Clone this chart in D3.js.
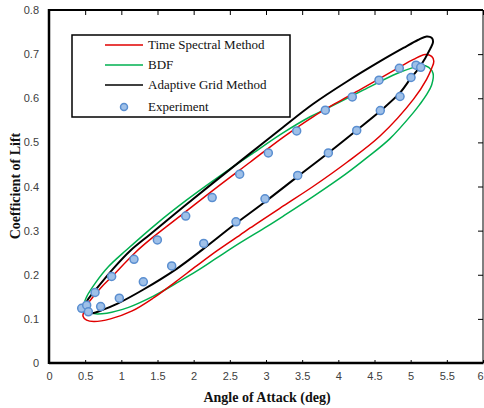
<!DOCTYPE html>
<html><head><meta charset="utf-8">
<script src="https://cdn.jsdelivr.net/npm/d3@7"></script>
<style>body{margin:0;background:#fff}svg{display:block}</style>
</head><body>
<svg id="c" width="484" height="408"></svg>
<script>
// ---- data ----
const xTicks = [0,0.5,1,1.5,2,2.5,3,3.5,4,4.5,5,5.5,6];
const yTicks = [0,0.1,0.2,0.3,0.4,0.5,0.6,0.7,0.8];
const xLabels = ["0","0.5","1","1.5","2","2.5","3","3.5","4","4.5","5","5.5","6"];
const yLabels = ["0","0.1","0.2","0.3","0.4","0.5","0.6","0.7","0.8"];
const seriesNames = ["Time Spectral Method","BDF","Adaptive Grid Method","Experiment"];

const tsm = [[0.48,0.115],[0.54,0.135],[0.73,0.173],[0.87,0.196],[1.19,0.250],[1.40,0.280],[1.86,0.339],[2.32,0.398],[2.78,0.455],[3.24,0.512],[3.65,0.558],[4.00,0.592],[4.35,0.624],[4.81,0.667],[5.04,0.688],[5.20,0.699],[5.29,0.695],[5.32,0.684],
  [5.29,0.668],[5.22,0.643],[5.04,0.598],[4.58,0.515],[4.12,0.455],[3.65,0.400],[3.24,0.356],[2.78,0.306],[2.64,0.290],[2.32,0.254],[2.04,0.220],[1.75,0.184],[1.45,0.148],[1.15,0.118],[0.85,0.100],[0.62,0.094],[0.52,0.097],[0.47,0.106]];

const bdf = [[0.49,0.135],[0.52,0.150],[0.64,0.181],[0.82,0.218],[1.07,0.256],[1.49,0.316],[1.90,0.369],[2.32,0.419],[2.78,0.471],[3.24,0.522],[3.61,0.558],[3.82,0.575],[4.35,0.619],[4.81,0.656],[5.04,0.670],[5.15,0.675],[5.25,0.670],[5.31,0.656],
  [5.29,0.630],[5.22,0.608],[5.13,0.587],[5.04,0.568],[4.71,0.508],[4.40,0.466],[4.10,0.428],[3.65,0.377],[3.24,0.333],[3.01,0.309],[2.64,0.272],[2.32,0.238],[2.04,0.208],[1.75,0.180],[1.45,0.152],[1.10,0.126],[0.80,0.113],[0.62,0.112],[0.53,0.120]];

const agm = [[0.49,0.124],[0.52,0.139],[0.68,0.173],[0.91,0.218],[1.12,0.254],[1.40,0.292],[1.86,0.354],[2.32,0.415],[2.78,0.475],[3.24,0.535],[3.65,0.587],[4.12,0.638],[4.58,0.684],[4.90,0.714],[5.10,0.732],[5.22,0.740],[5.29,0.737],[5.31,0.728],
  [5.27,0.712],[5.13,0.672],[5.00,0.645],[4.85,0.612],[4.58,0.571],[4.25,0.527],[3.86,0.476],[3.44,0.423],[2.96,0.362],[2.55,0.312],[2.13,0.258],[1.77,0.214],[1.30,0.166],[0.94,0.134],[0.75,0.121],[0.60,0.113],[0.52,0.116]];

const expX = [0.452,0.521,0.636,0.866,1.175,1.498,1.89,2.256,2.636,3.032,3.424,3.82,4.193,4.562,4.843,5.074,5.139,
              0.544,0.714,0.972,1.304,1.696,2.139,2.585,2.986,3.438,3.862,4.254,4.58,4.853,5.005];
const expY = [0.124,0.131,0.160,0.196,0.235,0.279,0.333,0.375,0.428,0.476,0.526,0.573,0.603,0.641,0.668,0.675,0.670,
              0.116,0.128,0.147,0.184,0.220,0.271,0.320,0.372,0.425,0.476,0.527,0.572,0.604,0.647];

// ---- chart ----
const L=49,R=483,T=10,B=363;
const x = d3.scaleLinear().domain([0,6]).range([L,R]);
const y = d3.scaleLinear().domain([0,0.8]).range([B,T]);
const svg = d3.select("#c");

const line = d3.line().x(d=>x(d[0])).y(d=>y(d[1])).curve(d3.curveCatmullRomClosed.alpha(0.5));
const g = svg.append("g");
g.append("path").attr("d",line(bdf)).attr("fill","none").attr("stroke","#00b050").attr("stroke-width",1.5);
g.append("path").attr("d",line(tsm)).attr("fill","none").attr("stroke","#e00000").attr("stroke-width",1.5);
g.append("path").attr("d",line(agm)).attr("fill","none").attr("stroke","#000").attr("stroke-width",2);

g.selectAll("circle.e").data(expX.map((v,i)=>[v,expY[i]])).enter().append("circle")
  .attr("cx",d=>x(d[0])).attr("cy",d=>y(d[1])).attr("r",4)
  .attr("fill","#9fc0e8").attr("stroke","#5a8ed0").attr("stroke-width",1.5);

// axes
const tickFont = "'Liberation Sans', Arial, sans-serif";
const xb = svg.append("g").attr("transform",`translate(0,${B})`)
  .call(d3.axisBottom(x).tickValues(xTicks).tickSize(-3).tickPadding(9).tickFormat((d,i)=>xLabels[i]));
const xt = svg.append("g").attr("transform",`translate(0,${T})`)
  .call(d3.axisTop(x).tickValues(xTicks).tickSize(-5).tickFormat(""));
const yl = svg.append("g").attr("transform",`translate(${L},0)`)
  .call(d3.axisLeft(y).tickValues(yTicks).tickSize(0).tickPadding(10).tickFormat((d,i)=>yLabels[i]));
const yr = svg.append("g").attr("transform",`translate(${R},0)`)
  .call(d3.axisRight(y).tickValues(yTicks).tickSize(-5).tickFormat(""));
[xb,xt,yl,yr].forEach(a=>{a.select(".domain").remove();a.selectAll("line").attr("stroke","#000");
  a.selectAll("text").attr("font-family",tickFont).attr("font-size",11).attr("fill","#404040");});
xb.selectAll(".tick text").filter(d=>d===6).attr("dx",-3);
// frame
svg.append("line").attr("x1",L).attr("x2",R).attr("y1",T).attr("y2",T).attr("stroke","#000").attr("stroke-width",2);
svg.append("line").attr("x1",L).attr("x2",R+0.5).attr("y1",B).attr("y2",B).attr("stroke","#000").attr("stroke-width",2.5);
svg.append("line").attr("x1",L).attr("x2",L).attr("y1",T-1).attr("y2",B+1).attr("stroke","#000").attr("stroke-width",2.5);
svg.append("line").attr("x1",R).attr("x2",R).attr("y1",T).attr("y2",B).attr("stroke","#000").attr("stroke-width",1);

// titles
const serif = "'Liberation Serif','Times New Roman',serif";
svg.append("text").attr("x",267).attr("y",402).attr("text-anchor","middle")
  .attr("font-family",serif).attr("font-weight","bold").attr("font-size",14).attr("fill","#111").text("Angle of Attack (deg)");
svg.append("text").attr("transform","translate(20,186) rotate(-90)").attr("text-anchor","middle")
  .attr("font-family",serif).attr("font-weight","bold").attr("font-size",14).attr("fill","#111").text("Coefficient of Lift");

// legend
const lg = svg.append("g");
lg.append("rect").attr("x",72).attr("y",35).attr("width",218).attr("height",82).attr("fill","#fff").attr("stroke","#000").attr("stroke-width",1.5);
const colors = ["#e00000","#00b050","#000"];
const rows = [45,65,85,107];
seriesNames.forEach((n,i)=>{
  if(i<3) lg.append("line").attr("x1",105).attr("x2",143).attr("y1",rows[i]).attr("y2",rows[i]).attr("stroke",colors[i]).attr("stroke-width",1.5);
  else lg.append("circle").attr("cx",124).attr("cy",rows[i]).attr("r",3.5).attr("fill","#9fc0e8").attr("stroke","#5a8ed0").attr("stroke-width",1.5);
  lg.append("text").attr("x",148).attr("y",rows[i]+4).attr("font-family",serif).attr("font-size",13).attr("fill","#111").text(n);
});
</script>
</body></html>
